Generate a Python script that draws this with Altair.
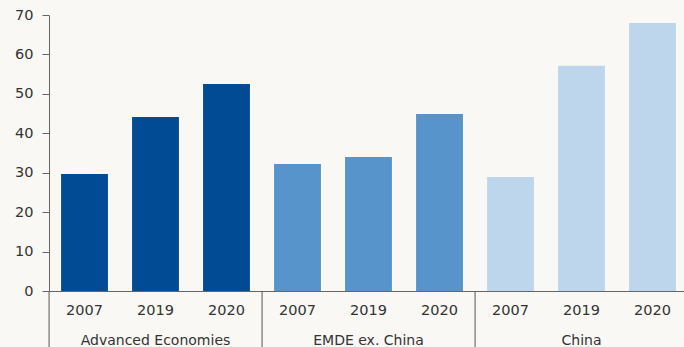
import altair as alt
import pandas as pd

groups = ["Advanced Economies"] * 3 + ["EMDE ex. China"] * 3 + ["China"] * 3
years = ["2007", "2019", "2020"] * 3
values = [29.7, 44.1, 52.5, 32.2, 34.0, 44.9, 28.9, 57.1, 68.0]
group_names = ["Advanced Economies", "EMDE ex. China", "China"]
colors = ["#004B93", "#5694CB", "#BDD6EC"]

keys = [f"{g}|{y}" for g, y in zip(groups, years)]
df = pd.DataFrame({"key": keys, "group": groups, "year": years, "value": values})

# group label positioned at the middle bar of each group; separators at first bar
mid = pd.DataFrame({"key": [keys[1], keys[4], keys[7]], "group": group_names})
sep = pd.DataFrame({"key": [keys[0], keys[3], keys[6]]})

xscale = alt.Scale(domain=keys, paddingInner=0.34, paddingOuter=0.17, range=[0, 639])
font = "DejaVu Sans"
txt_color = "#333333"

base_x = alt.X("key:N", scale=xscale,
               axis=alt.Axis(labels=False, ticks=False, title=None,
                             domainColor="#666666", domainWidth=1))

bars = alt.Chart(df).mark_bar().encode(
    x=base_x,
    y=alt.Y("value:Q", scale=alt.Scale(domain=[0, 70]),
            axis=alt.Axis(values=list(range(0, 71, 10)), title=None, grid=False,
                          tickSize=7, tickColor="#666666", domainColor="#666666",
                          labelFont=font, labelFontSize=14.5, labelColor=txt_color,
                          labelPadding=9)),
    color=alt.Color("group:N", scale=alt.Scale(domain=group_names, range=colors), legend=None),
)

year_text = alt.Chart(df).mark_text(font=font, fontSize=14.5, color=txt_color, baseline="middle").encode(
    x=alt.X("key:N", scale=xscale),
    y=alt.value(296),
    text="year:N",
)

group_text = alt.Chart(mid).mark_text(font=font, fontSize=14, color=txt_color, baseline="middle").encode(
    x=alt.X("key:N", scale=xscale),
    y=alt.value(326),
    text="group:N",
)

rules = alt.Chart(sep).mark_rule(color="#555555", strokeWidth=1, xOffset=-12).encode(
    x=alt.X("key:N", scale=xscale, bandPosition=0),
    y=alt.value(276),
    y2=alt.value(340),
)

chart = alt.layer(bars, year_text, group_text, rules).properties(
    width=635, height=276,
    autosize=alt.AutoSizeParams(type="none"),
    padding={"left": 49, "top": 15, "right": 0, "bottom": 56},
    background="#FAF8F4",
).configure_view(stroke=None)

chart.save("out.html", embed_options={"renderer": "svg", "actions": False})
